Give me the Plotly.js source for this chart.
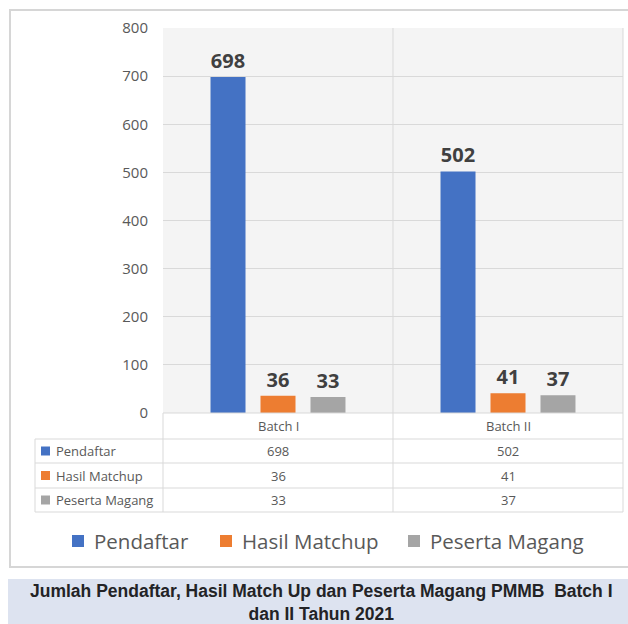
<!DOCTYPE html>
<html>
<head>
<meta charset="utf-8">
<script src="https://cdn.plot.ly/plotly-3.0.1.min.js"></script>
<style>html,body{margin:0;padding:0;background:#fff;}#chart{width:628px;height:624px;}</style>
</head>
<body>
<div id="chart"></div>
<script>
const categories = ['Batch I', 'Batch II'];
const pendaftar = [698, 502];
const hasilMatchup = [36, 41];
const pesertaMagang = [33, 37];
const seriesNames = ['Pendaftar', 'Hasil Matchup', 'Peserta Magang'];
const seriesColors = ['#4472c4', '#ed7d31', '#a5a5a5'];
const captionLines = ['Jumlah Pendaftar, Hasil Match Up dan Peserta Magang PMMB  Batch I', 'dan II Tahun 2021'];

const seriesValues = [pendaftar, hasilMatchup, pesertaMagang];

// layout geometry (pixels)
const W = 628, H = 624;
const PL = 163, PR = 623, PT = 28, PB = 413;
const pw = PR - PL, ph = PB - PT;
const px2x = p => (p - PL) / pw;
const px2y = p => (PB - p) / ph;

const FONT = 'Open Sans, Noto Sans, sans-serif';
const GRID = '#d9d9d9';

const traces = seriesNames.map((name, i) => ({
  type: 'bar',
  name: name,
  x: categories,
  y: seriesValues[i],
  marker: {color: seriesColors[i]},
  text: seriesValues[i].map(String),
  textposition: 'outside',
  cliponaxis: false,
  textfont: {family: FONT, size: 20, color: '#404040', weight: 'bold'},
  hoverinfo: 'skip',
  showlegend: false
}));

const shapes = [];
const annotations = [];
const line = (x0, y0, x1, y1) => shapes.push({type: 'line', xref: 'paper', yref: 'paper',
  x0: px2x(x0), y0: px2y(y0), x1: px2x(x1), y1: px2y(y1), line: {color: GRID, width: 1}, layer: 'above'});

// outer frame
shapes.push({type: 'rect', xref: 'paper', yref: 'paper', x0: px2x(10), y0: px2y(10), x1: px2x(640), y1: px2y(567),
  line: {color: '#d6d6d6', width: 2}, fillcolor: 'rgba(0,0,0,0)', layer: 'below'});

// table grid
const rowLines = [439, 463, 488, 512];
line(PL, PB, PR, PB);
rowLines.forEach(r => line(35, r, PR, r));
line(35, 439, 35, 512);
line(PL, PB, PL, 512);
line(PL + pw / 2, PT, PL + pw / 2, 512);
line(PR, PT, PR, 512);

// header row: category names
categories.forEach(c => annotations.push({xref: 'x', yref: 'paper', x: c, y: px2y(426), text: c, showarrow: false,
  font: {family: FONT, size: 13, color: '#595959'}, yanchor: 'middle'}));

// data rows
seriesNames.forEach((name, i) => {
  const top = rowLines[i], bot = rowLines[i + 1];
  const mid = (top + bot) / 2;
  shapes.push({type: 'rect', xref: 'paper', yref: 'paper', x0: px2x(41), x1: px2x(50), y0: px2y(mid - 4.5), y1: px2y(mid + 4.5),
    fillcolor: seriesColors[i], line: {width: 0}});
  annotations.push({xref: 'paper', yref: 'paper', x: px2x(54), y: px2y(mid), xanchor: 'left', yanchor: 'middle',
    text: name, showarrow: false, font: {family: FONT, size: 13, color: '#595959'}});
  categories.forEach((c, j) => annotations.push({xref: 'x', yref: 'paper', x: c, y: px2y(mid), yanchor: 'middle',
    text: String(seriesValues[i][j]), showarrow: false, font: {family: FONT, size: 13, color: '#595959'}}));
});

// legend (drawn manually)
const legendSquareX = [72, 220, 408];
const legendY = 541;
seriesNames.forEach((name, i) => {
  const sx = legendSquareX[i];
  shapes.push({type: 'rect', xref: 'paper', yref: 'paper', x0: px2x(sx), x1: px2x(sx + 12), y0: px2y(legendY - 6), y1: px2y(legendY + 6),
    fillcolor: seriesColors[i], line: {width: 0}});
  annotations.push({xref: 'paper', yref: 'paper', x: px2x(sx + 20), y: px2y(legendY), xanchor: 'left', yanchor: 'middle',
    text: name, showarrow: false, font: {family: FONT, size: 20.5, color: '#595959'}});
});

// caption box
shapes.push({type: 'rect', xref: 'paper', yref: 'paper', x0: px2x(8), x1: px2x(640), y0: px2y(579), y1: px2y(630),
  fillcolor: '#dde3f0', line: {width: 0}});
annotations.push({xref: 'paper', yref: 'paper', x: px2x(321), y: px2y(602),
  xanchor: 'center', yanchor: 'middle', text: '<b>' + captionLines.join('<br>') + '</b>', showarrow: false,
  align: 'center', borderpad: 0,
  font: {family: 'Liberation Sans Narrow, Liberation Sans, Arial, sans-serif', size: 17.5, color: '#232326'}});

const layout = {
  width: W, height: H,
  margin: {l: PL, r: W - PR, t: PT, b: H - PB, pad: 0},
  paper_bgcolor: '#ffffff',
  plot_bgcolor: '#f4f4f4',
  barmode: 'group',
  bargap: 0.348,
  bargroupgap: 0.3,
  showlegend: false,
  xaxis: {showticklabels: false, showgrid: false, zeroline: false, showline: false, fixedrange: true},
  yaxis: {range: [0, 800], dtick: 100, tick0: 0, showgrid: true, gridcolor: GRID, gridwidth: 1, zeroline: false,
    showline: false, ticks: '', ticklabelstandoff: 14,
    tickfont: {family: FONT, size: 15, color: '#595959'}},
  shapes: shapes,
  annotations: annotations,
  font: {family: FONT}
};

Plotly.newPlot('chart', traces, layout, {displayModeBar: false, staticPlot: true});
</script>
</body>
</html>
